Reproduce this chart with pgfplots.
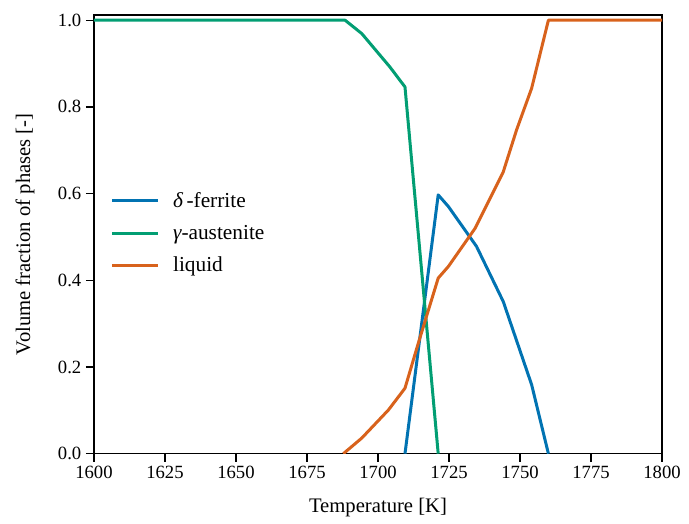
\documentclass[border=0pt]{standalone}
\usepackage{fontspec}
\setmainfont{Liberation Serif}
\setsansfont{Liberation Serif}
\usepackage{pgfplots}
\pgfplotsset{compat=1.18}
\definecolor{cbblue}{HTML}{0173B2}
\definecolor{cbgreen}{HTML}{029E73}
\definecolor{cborange}{HTML}{D8621C}

\begin{document}
\begin{tikzpicture}
\begin{axis}[
    scale only axis,
    width=426pt, height=329pt,
    xmin=1600, xmax=1800,
    ymin=0, ymax=1.012,
    xtick={1600,1625,...,1800},
    ytick={0,0.2,...,1.0},
    yticklabel style={/pgf/number format/.cd, fixed, fixed zerofill, precision=1},
    xticklabel style={/pgf/number format/1000 sep={}},
    /pgf/number format/assume math mode=true,
    ticklabel style={font=\rmfamily\fontsize{14}{16}\selectfont},
    tick align=outside,
    major tick length=6pt,
    every tick/.style={black, line width=1pt},
    axis line style={line width=1pt},
    xtick pos=bottom, ytick pos=left,
    xlabel={Temperature [K]},
    ylabel={Volume fraction of phases [-]},
    label style={font=\rmfamily\fontsize{15.5}{18}\selectfont},
    xlabel style={at={(axis description cs:0.5,-0.123)}, anchor=center},
    ylabel style={at={(axis description cs:-0.1215,0.5)}, anchor=center},
    legend style={
        draw=none, fill=none,
        at={(0.022,0.503)}, anchor=west,
        font=\rmfamily\fontsize{16}{18}\selectfont,
        row sep=6pt, column sep=7pt,
        nodes={inner sep=3pt},
    },
    legend cell align=left,
    legend image code/.code={\draw[#1] (0pt,0pt) -- (34.5pt,0pt);},
    every axis plot/.append style={line width=2.25pt, line join=round},
]
\addplot[cbblue] coordinates {
    (1709.5,0) (1721.2,0.597) (1724.8,0.570) (1734.7,0.478)
    (1744.1,0.351) (1754.1,0.159) (1760.0,0)
};
\addlegendentry{{\itshape δ}\,-ferrite}
\addplot[cbgreen] coordinates {
    (1600,1.0) (1688.4,1.0) (1694.3,0.969) (1704.2,0.892)
    (1709.5,0.846) (1721.2,0)
};
\addlegendentry{{\itshape γ}-austenite}
\addplot[cborange] coordinates {
    (1687.8,0) (1694.3,0.036) (1703.7,0.101) (1709.5,0.151)
    (1714.2,0.255) (1721.2,0.405) (1724.8,0.432) (1734.2,0.520)
    (1744.1,0.650) (1748.8,0.747) (1754.1,0.843) (1760.0,1.0)
    (1800,1.0)
};
\addlegendentry{liquid}
\end{axis}
\path ([xshift=-70.5pt,yshift=-52.5pt]current axis.south west)
    rectangle ([xshift=20.25pt,yshift=11.25pt]current axis.north east);
\end{tikzpicture}
\end{document}
